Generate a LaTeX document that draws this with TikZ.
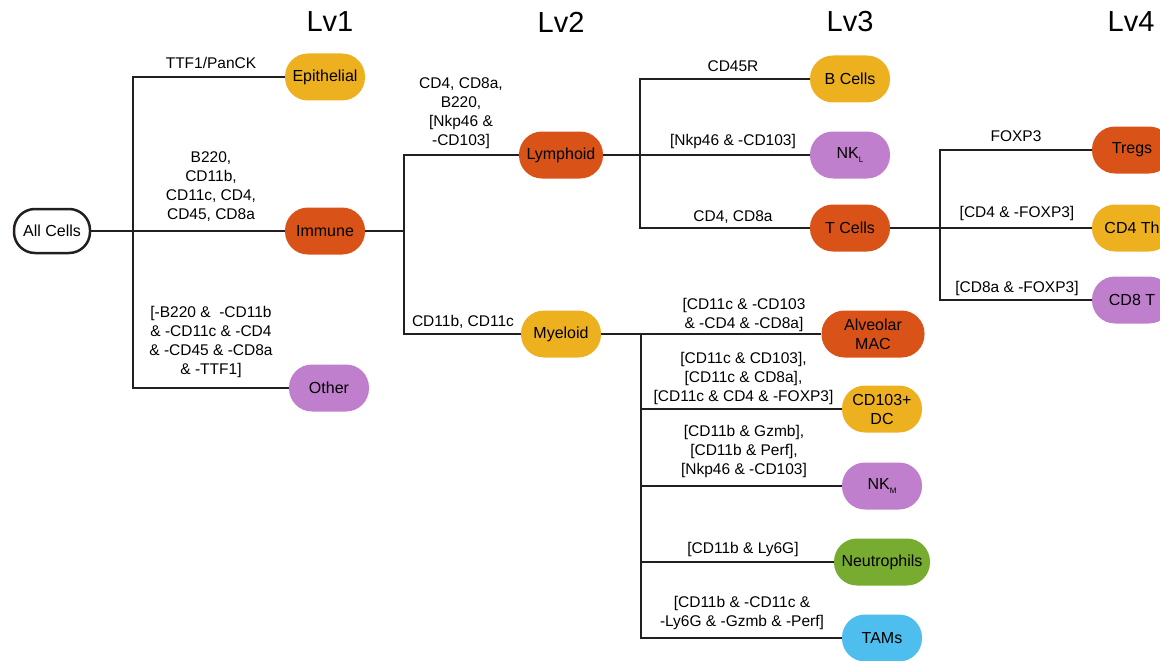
\documentclass[tikz,border=0pt]{standalone}
\usepackage{fontspec}
\setmainfont{Liberation Sans}
\definecolor{cyel}{HTML}{EDB120}
\definecolor{cred}{HTML}{D95319}
\definecolor{cpur}{HTML}{BF7FCC}
\definecolor{cgrn}{HTML}{77AC30}
\definecolor{cblu}{HTML}{4DBEEE}
\definecolor{cline}{HTML}{231F20}
\newcommand\lblfont{\fontsize{15.5pt}{19pt}\selectfont}
\newcommand\cellfont{\fontsize{16pt}{19pt}\selectfont}
\newcommand\hdrfont{\fontsize{29pt}{31pt}\selectfont}
\newcommand\subL[1]{\raisebox{-0.55ex}{\fontsize{8pt}{8pt}\selectfont #1}}
\begin{document}
\begin{tikzpicture}[x=1pt,y=-1pt,
  cell/.style={rounded corners=23pt, minimum width=80pt, minimum height=47pt,
     inner sep=0pt, font=\cellfont, align=center, text=black},
  lbl/.style={font=\lblfont, align=center, inner sep=0pt, text=black},
  hdr/.style={font=\hdrfont, inner sep=0pt, text=black},
  conn/.style={draw=cline, line width=2.5pt}]
\useasboundingbox (0,0) rectangle (1160,661);
\clip (0,0) rectangle (1160,661);

% headers
\node[hdr] (h1) at (330,22) {Lv1};
\node[hdr] (h2) at (561,22) {Lv2};
\node[hdr] (h3) at (850,22) {Lv3};
\node[hdr] (h4) at (1131,22) {Lv4};

% nodes
\node[cell, draw=cline, line width=2.5pt, fill=white, minimum width=76pt, minimum height=44pt, rounded corners=21pt] (all) at (52,231) {All Cells};
\node[cell, fill=cyel] (epi) at (325,77) {Epithelial};
\node[cell, fill=cred] (imm) at (325,231) {Immune};
\node[cell, fill=cpur] (oth) at (329,388) {Other};
\node[cell, fill=cred, minimum width=84pt] (lym) at (561,155) {Lymphoid};
\node[cell, fill=cyel] (mye) at (561,334) {Myeloid};
\node[cell, fill=cyel] (bc) at (850,79) {B Cells};
\node[cell, fill=cpur] (nkl) at (850,155) {NK\subL{L}};
\node[cell, fill=cred] (tc) at (850,228) {T Cells};
\node[cell, fill=cred, minimum width=103pt] (amac) at (873,334) {Alveolar\\MAC};
\node[cell, fill=cyel] (dc) at (882,409) {CD103+\\DC};
\node[cell, fill=cpur] (nkm) at (882,486) {NK\subL{M}};
\node[cell, fill=cgrn, minimum width=96pt] (neu) at (882,562) {Neutrophils};
\node[cell, fill=cblu] (tam) at (882,638) {TAMs};
\node[cell, fill=cred] (treg) at (1132,150) {Tregs};
\node[cell, fill=cyel] (cd4) at (1132,228) {CD4 Th};
\node[cell, fill=cpur] (cd8) at (1132,300) {CD8 T};

% junctions
\coordinate (j1) at (133,231);
\coordinate (j2) at (404,231);
\coordinate (j3) at (640,155);
\coordinate (j4) at (641,334);
\coordinate (j5) at (940,228);

% connectors
\draw[conn] (all) -- (imm);
\draw[conn] (epi.west) -| (j1) |- (oth.west);
\draw[conn] (imm) -- (j2);
\draw[conn] (lym.west) -| (j2) |- (mye.west);
\draw[conn] (lym) -- (nkl);
\draw[conn] (bc.west) -| (j3) |- (tc.west);
\draw[conn] (mye) -- (amac);
\draw[conn] (j4) |- (tam.west);
\draw[conn] (dc.west) -| (j4);
\draw[conn] (nkm.west) -| (j4);
\draw[conn] (neu.west) -| (j4);
\draw[conn] (tc) -- (cd4);
\draw[conn] (treg.west) -| (j5) |- (cd8.west);

% labels
\node[lbl] (l1) at (211,63) {TTF1/PanCK};
\node[lbl] (l2) at (211,186.5) {B220,\\CD11b,\\CD11c, CD4,\\CD45, CD8a};
\node[lbl] (l3) at (211,341.5) {[-B220 \&\ \ -CD11b\\\& -CD11c \& -CD4\\\& -CD45 \& -CD8a\\\& -TTF1]};
\node[lbl] (l4) at (461,113.5) {CD4, CD8a,\\B220,\\{[}Nkp46 \&\\-CD103]};
\node[lbl] (l5) at (463,322) {CD11b, CD11c};
\node[lbl] (l6) at (733,66) {CD45R};
\node[lbl] (l7) at (733,141) {[Nkp46 \& -CD103]};
\node[lbl] (l8) at (733,217) {CD4, CD8a};
\node[lbl] (l9) at (744,314.5) {[CD11c \& -CD103\\\& -CD4 \& -CD8a]};
\node[lbl] (l10) at (743.5,378) {[CD11c \& CD103],\\{[}CD11c \& CD8a],\\{[}CD11c \& CD4 \& -FOXP3]};
\node[lbl] (l11) at (744,451.5) {[CD11b \& Gzmb],\\{[}CD11b \& Perf],\\{[}Nkp46 \& -CD103]};
\node[lbl] (l12) at (743,549) {[CD11b \& Ly6G]};
\node[lbl] (l13) at (742,613) {[CD11b \& -CD11c \&\\-Ly6G \& -Gzmb \& -Perf]};
\node[lbl] (l14) at (1016,136) {FOXP3};
\node[lbl] (l15) at (1017,213) {[CD4 \& -FOXP3]};
\node[lbl] (l16) at (1017,288) {[CD8a \& -FOXP3]};
\end{tikzpicture}
\end{document}
